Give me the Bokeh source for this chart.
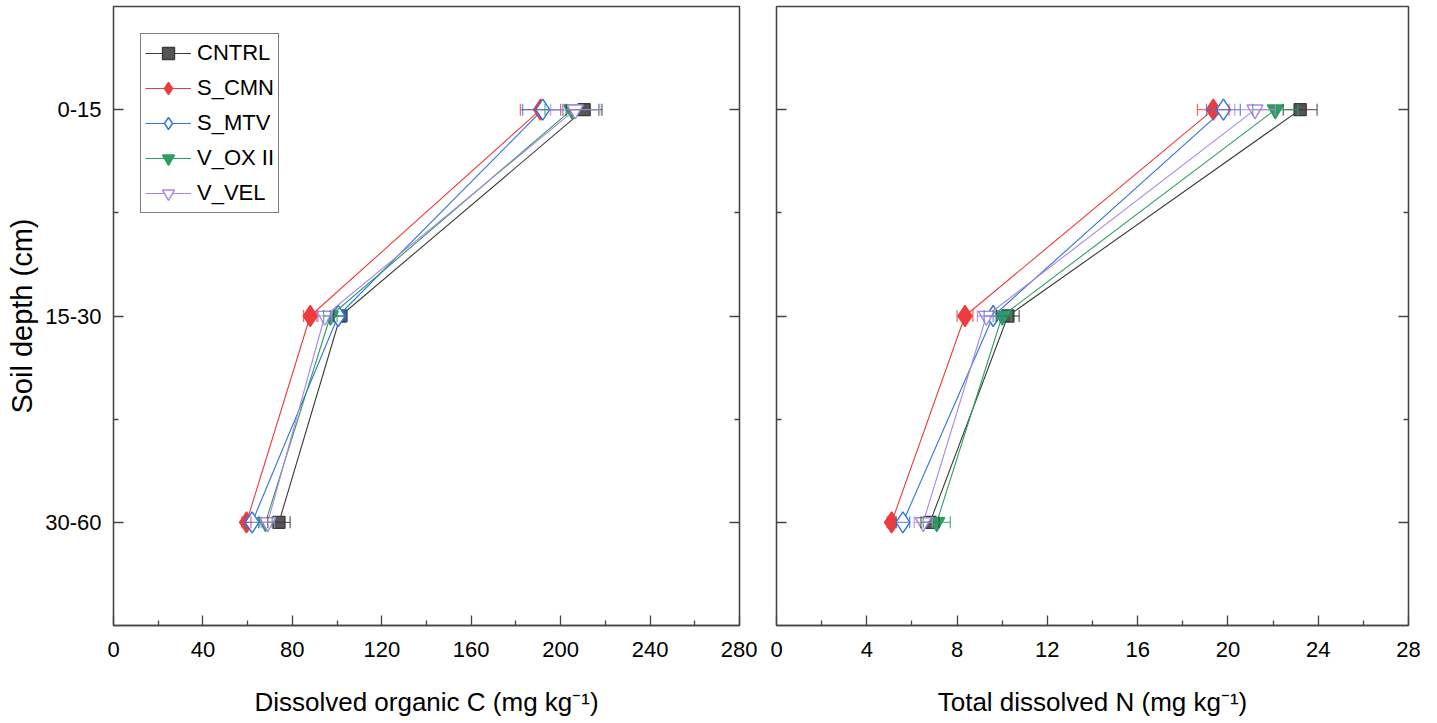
from bokeh.plotting import figure
from bokeh.models import Range1d, FixedTicker, LinearAxis, Whisker, TeeHead, ColumnDataSource, CustomJSTickFormatter
from bokeh.layouts import row
from bokeh.embed import file_html
from bokeh.resources import INLINE

# ---------------- data ----------------
depths = ["0-15", "15-30", "30-60"]
series = ["CNTRL", "S_CMN", "S_MTV", "V_OX II", "V_VEL"]

doc_cntrl = [210.5, 101.5, 74.0]
doc_scmn = [191.0, 88.0, 59.5]
doc_smtv = [192.0, 100.5, 62.0]
doc_vox = [205.0, 97.0, 68.0]
doc_vvel = [206.5, 94.5, 69.0]

doc_err_cntrl = [8.0, 3.0, 5.0]
doc_err_scmn = [9.0, 3.0, 2.0]
doc_err_smtv = [9.0, 3.5, 3.0]
doc_err_vox = [12.0, 3.0, 3.0]
doc_err_vvel = [11.0, 3.0, 3.0]

tdn_cntrl = [23.2, 10.25, 6.8]
tdn_scmn = [19.35, 8.35, 5.1]
tdn_smtv = [19.8, 9.6, 5.6]
tdn_vox = [22.1, 10.0, 7.1]
tdn_vvel = [21.2, 9.3, 6.5]

tdn_err_cntrl = [0.75, 0.5, 0.4]
tdn_err_scmn = [0.7, 0.35, 0.2]
tdn_err_smtv = [0.75, 0.4, 0.3]
tdn_err_vox = [1.0, 0.4, 0.6]
tdn_err_vvel = [0.9, 0.4, 0.4]

doc_ticks = [0, 40, 80, 120, 160, 200, 240, 280]
doc_minor = [20, 60, 100, 140, 180, 220, 260]
tdn_ticks = [0, 4, 8, 12, 16, 20, 24, 28]
tdn_minor = [2, 6, 10, 14, 18, 22, 26]

# ---------------- styles ----------------
FONT = "Liberation Sans"
AX = "#454545"
styles = {
    "CNTRL": dict(marker="square", size=12, line="#3a3a3a", fill="#555555"),
    "S_CMN": dict(marker="diamond", size=21, line="#ee3b3b", fill="#ee3b3b"),
    "S_MTV": dict(marker="diamond", size=21, line="#2f74e0", fill="white"),
    "V_OX II": dict(marker="inverted_triangle", size=16, line="#2e9e60", fill="#2e9e60"),
    "V_VEL": dict(marker="inverted_triangle", size=16, line="#ad86e4", fill="white"),
}

ypos = [i + 1 for i in range(len(depths))]
labels_map = {i + 1: d for i, d in enumerate(depths)}


def style_axis(ax, labels=True):
    ax.axis_line_color = AX
    ax.axis_line_width = 1.3
    ax.major_tick_line_color = AX
    ax.minor_tick_line_color = AX
    ax.major_tick_line_width = 1.3
    ax.minor_tick_line_width = 1.3
    ax.major_tick_in = 10
    ax.major_tick_out = 0
    ax.minor_tick_in = 5
    ax.minor_tick_out = 0
    ax.major_label_text_font = FONT
    ax.major_label_text_color = "black"
    ax.axis_label_text_font = FONT
    ax.axis_label_text_font_style = "normal"
    ax.axis_label_text_color = "black"
    if not labels:
        ax.formatter = CustomJSTickFormatter(code="return ''")
        ax.major_label_text_font_size = "1px"
        ax.major_label_standoff = 0
        ax.axis_label = None


def make_fig(vals, errs, xmax, xticks, xminor, xlabel, width, bl, br, left_labels, legend):
    p = figure(width=width, height=723, output_backend="svg", toolbar_location=None,
               x_range=Range1d(0, xmax), y_range=Range1d(3.5, 0.5),
               min_border_left=bl, min_border_right=br, min_border_top=6, min_border_bottom=98)
    p.xgrid.visible = False
    p.ygrid.visible = False
    p.outline_line_color = AX
    p.outline_line_width = 1.3
    p.background_fill_color = "white"
    p.border_fill_color = "white"

    xt = FixedTicker(ticks=xticks, minor_ticks=xminor)
    yt = FixedTicker(ticks=ypos, minor_ticks=[1.5, 2.5])
    p.xaxis.ticker = xt
    p.yaxis.ticker = yt
    p.xaxis.axis_label = xlabel
    style_axis(p.xaxis[0])
    p.xaxis.major_label_text_font_size = "22px"
    p.xaxis.major_label_standoff = 16
    p.xaxis.axis_label_text_font_size = "26px"
    p.xaxis.axis_label_standoff = 27

    style_axis(p.yaxis[0], labels=left_labels)
    if left_labels:
        p.yaxis.major_label_overrides = labels_map
        p.yaxis.major_label_text_font_size = "22px"
        p.yaxis.major_label_standoff = 12
        p.yaxis.axis_label = "Soil depth (cm)"
        p.yaxis.axis_label_text_font_size = "29px"
        p.yaxis.axis_label_standoff = 4

    ry = LinearAxis(ticker=FixedTicker(ticks=ypos, minor_ticks=[1.5, 2.5]))
    style_axis(ry, labels=False)
    p.add_layout(ry, "right")

    for name in series:
        st = styles[name]
        x = vals[name]
        e = errs[name]
        src = ColumnDataSource(dict(x=x, y=ypos,
                                    lo=[a - b for a, b in zip(x, e)],
                                    hi=[a + b for a, b in zip(x, e)]))
        w = Whisker(source=src, base="y", lower="lo", upper="hi", dimension="width",
                    line_color=st["line"], line_alpha=0.75, line_width=1.3,
                    lower_head=TeeHead(size=12, line_color=st["line"], line_alpha=0.75, line_width=1.3),
                    upper_head=TeeHead(size=12, line_color=st["line"], line_alpha=0.75, line_width=1.3))
        w.level = "glyph"
        p.add_layout(w)
        kw = dict(legend_label=name) if legend else {}
        p.line("x", "y", source=src, line_color=st["line"], line_width=1.1, **kw)
        p.scatter("x", "y", source=src, marker=st["marker"], size=st["size"],
                  line_color=st["line"], fill_color=st["fill"], line_width=1.4, **kw)

    if legend:
        lg = p.legend[0]
        lg.location = "top_left"
        lg.margin = 27
        lg.border_line_color = "black"
        lg.border_line_width = 1.2
        lg.label_text_font = FONT
        lg.label_text_font_size = "22px"
        lg.label_text_color = "black"
        lg.glyph_width = 46
        lg.glyph_height = 30
        lg.label_standoff = 6
        lg.spacing = 5
        lg.padding = 4
        lg.background_fill_alpha = 1.0
    return p


doc_vals = {"CNTRL": doc_cntrl, "S_CMN": doc_scmn, "S_MTV": doc_smtv, "V_OX II": doc_vox, "V_VEL": doc_vvel}
doc_errs = {"CNTRL": doc_err_cntrl, "S_CMN": doc_err_scmn, "S_MTV": doc_err_smtv, "V_OX II": doc_err_vox, "V_VEL": doc_err_vvel}
tdn_vals = {"CNTRL": tdn_cntrl, "S_CMN": tdn_scmn, "S_MTV": tdn_smtv, "V_OX II": tdn_vox, "V_VEL": tdn_vvel}
tdn_errs = {"CNTRL": tdn_err_cntrl, "S_CMN": tdn_err_scmn, "S_MTV": tdn_err_smtv, "V_OX II": tdn_err_vox, "V_VEL": tdn_err_vvel}

p1 = make_fig(doc_vals, doc_errs, 280, doc_ticks, doc_minor, "Dissolved organic C (mg kg\u207b\u00b9)",
              757, 113, 18, True, True)
p2 = make_fig(tdn_vals, tdn_errs, 28, tdn_ticks, tdn_minor, "Total dissolved N (mg kg\u207b\u00b9)",
              680, 19, 29, False, False)

layout = row(p1, p2)
open("out.html", "w").write(file_html(layout, INLINE))
